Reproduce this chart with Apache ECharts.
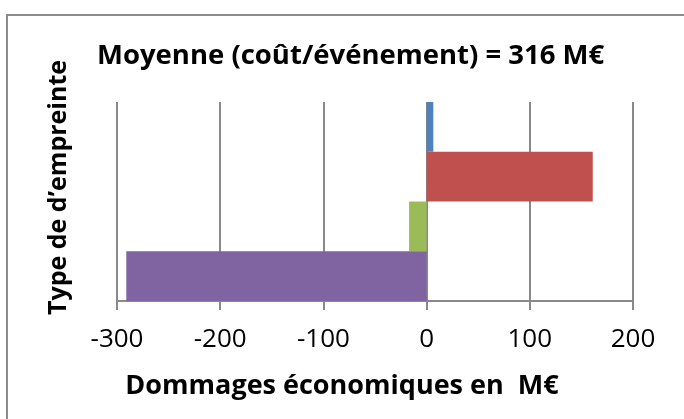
<!DOCTYPE html>
<html>
<head>
<meta charset="utf-8">
<script src="https://cdn.jsdelivr.net/npm/echarts@6/dist/echarts.min.js"></script>
<style>
  html, body { margin: 0; padding: 0; background: #fff; }
</style>
</head>
<body>
<div id="chart" style="width:684px; height:419px;"></div>
<script>
// types d'empreinte (labels not shown on the chart)
const types = ['Type 1', 'Type 2', 'Type 3', 'Type 4'];
// dommages économiques, M€
const dommages = [6.5, 161, -17, -291];
const couleurs = ['#4F81BD', '#C0504D', '#9BBB59', '#8064A2'];

const titre = 'Moyenne (coût/événement) = 316 M€';
const nomX = 'Dommages économiques en  M€';
const nomY = 'Type de d\u2019empreinte';

const FONT = "'Open Sans', sans-serif";
const GRIS = '#898989';

const chart = echarts.init(document.getElementById('chart'));

const options = {
  animation: false,
  textStyle: { fontFamily: FONT },
  title: {
    text: titre,
    left: 97,
    top: 42,
    padding: 0,
    textStyle: { fontFamily: FONT, fontSize: 27.5, fontWeight: 'bold', color: '#000' }
  },
  graphic: [
    {
      type: 'rect',
      shape: { x: 7, y: 15, width: 700, height: 430 },
      style: { fill: 'none', stroke: '#8c8c8c', lineWidth: 2 },
      silent: true
    }
  ],
  grid: { left: 117, right: 51, top: 102, bottom: 118 },
  xAxis: {
    type: 'value',
    min: -300,
    max: 200,
    interval: 100,
    name: nomX,
    nameLocation: 'middle',
    nameGap: 72,
    nameTextStyle: {
      fontFamily: FONT, fontSize: 27, fontWeight: 'bold', color: '#000',
      padding: [0, 66, 0, 0]
    },
    axisLine: { show: true, lineStyle: { color: GRIS, width: 2 } },
    axisTick: { show: true, length: 9, lineStyle: { color: GRIS, width: 2 } },
    axisLabel: { fontFamily: FONT, fontSize: 26, color: '#000', margin: 26 },
    splitLine: { show: true, lineStyle: { color: GRIS, width: 2 } }
  },
  yAxis: {
    type: 'category',
    data: types,
    inverse: true,
    name: nomY,
    nameLocation: 'middle',
    nameRotate: 90,
    nameGap: 46,
    nameTextStyle: {
      fontFamily: FONT, fontSize: 25, fontWeight: 'bold', color: '#000',
      padding: [0, 0, 0, 28]
    },
    axisLine: { show: false },
    axisTick: { show: false },
    axisLabel: { show: false },
    splitLine: { show: false }
  },
  series: [
    {
      type: 'bar',
      barCategoryGap: 0,
      data: dommages.map((v, i) => ({ value: v, itemStyle: { color: couleurs[i] } }))
    }
  ]
};

chart.setOption(options);
</script>
</body>
</html>
